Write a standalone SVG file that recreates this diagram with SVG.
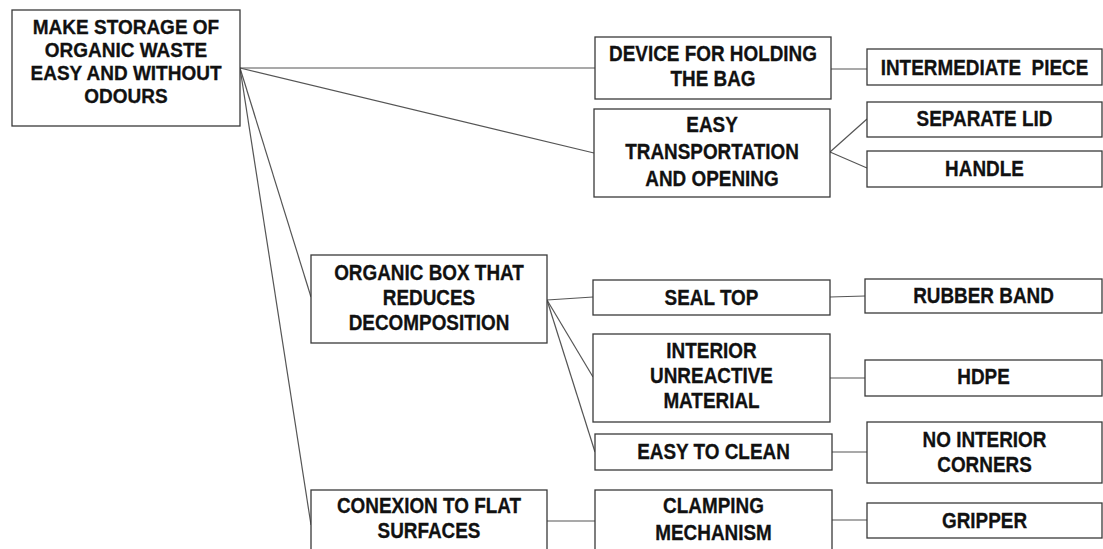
<svg xmlns="http://www.w3.org/2000/svg" width="1103" height="549" viewBox="0 0 1103 549">
<style>
.box{fill:#fff;stroke:#3a3a3a;stroke-width:1.3}
.t{font-family:"Liberation Sans",Arial,sans-serif;font-weight:bold;font-size:22px;fill:#111;stroke:#111;stroke-width:0.3;text-anchor:middle}
.r{font-size:20px}
.c{stroke:#555;stroke-width:1.2;fill:none}
</style>
<rect width="1103" height="549" fill="#fff"/>
<g id="connectors">
<line class="c" x1="240" y1="68" x2="595" y2="68"/>
<line class="c" x1="240" y1="68" x2="594" y2="153"/>
<line class="c" x1="240" y1="68" x2="311" y2="297"/>
<line class="c" x1="240" y1="68" x2="311" y2="525"/>
<line class="c" x1="831" y1="69" x2="867" y2="69"/>
<line class="c" x1="830" y1="152" x2="867" y2="119"/>
<line class="c" x1="830" y1="152" x2="867" y2="168"/>
<line class="c" x1="547" y1="300" x2="593" y2="297"/>
<line class="c" x1="547" y1="300" x2="593" y2="377"/>
<line class="c" x1="547" y1="300" x2="595" y2="452"/>
<line class="c" x1="830" y1="297" x2="865" y2="296"/>
<line class="c" x1="830" y1="378" x2="865" y2="378"/>
<line class="c" x1="832" y1="452" x2="867" y2="452"/>
<line class="c" x1="547" y1="521" x2="595" y2="521"/>
<line class="c" x1="832" y1="520" x2="867" y2="520"/>
</g>
<g id="root">
<rect class="box" x="12" y="10" width="228" height="116"/>
<text class="t r" transform="translate(126 34) scale(0.95 1)">MAKE STORAGE OF</text>
<text class="t r" transform="translate(126 57) scale(0.95 1)">ORGANIC WASTE</text>
<text class="t r" transform="translate(126 80) scale(0.95 1)">EASY AND WITHOUT</text>
<text class="t r" transform="translate(126 103) scale(0.95 1)">ODOURS</text>
</g>
<g id="device">
<rect class="box" x="595" y="37" width="236" height="62"/>
<text class="t" transform="translate(713 61) scale(0.86 1)">DEVICE FOR HOLDING</text>
<text class="t" transform="translate(713 86) scale(0.86 1)">THE BAG</text>
</g>
<g id="intermediate">
<rect class="box" x="867" y="49" width="235" height="36"/>
<text class="t" transform="translate(984.5 75) scale(0.86 1)" xml:space="preserve">INTERMEDIATE  PIECE</text>
</g>
<g id="transport">
<rect class="box" x="594" y="109" width="236" height="88"/>
<text class="t" transform="translate(712 132) scale(0.86 1)">EASY</text>
<text class="t" transform="translate(712 159) scale(0.86 1)">TRANSPORTATION</text>
<text class="t" transform="translate(712 186) scale(0.86 1)">AND OPENING</text>
</g>
<g id="lid">
<rect class="box" x="867" y="102" width="235" height="35"/>
<text class="t" transform="translate(984.5 126) scale(0.86 1)">SEPARATE LID</text>
</g>
<g id="handle">
<rect class="box" x="867" y="151" width="235" height="36"/>
<text class="t" transform="translate(984.5 176) scale(0.86 1)">HANDLE</text>
</g>
<g id="organic">
<rect class="box" x="311" y="255" width="236" height="88"/>
<text class="t" transform="translate(429 280) scale(0.86 1)">ORGANIC BOX THAT</text>
<text class="t" transform="translate(429 305) scale(0.86 1)">REDUCES</text>
<text class="t" transform="translate(429 330) scale(0.86 1)">DECOMPOSITION</text>
</g>
<g id="seal">
<rect class="box" x="593" y="280" width="237" height="35"/>
<text class="t" transform="translate(711.5 305) scale(0.86 1)">SEAL TOP</text>
</g>
<g id="rubber">
<rect class="box" x="865" y="279" width="237" height="34"/>
<text class="t" transform="translate(983.5 303) scale(0.86 1)">RUBBER BAND</text>
</g>
<g id="interior">
<rect class="box" x="593" y="334" width="237" height="88"/>
<text class="t" transform="translate(711.5 358) scale(0.86 1)">INTERIOR</text>
<text class="t" transform="translate(711.5 383) scale(0.86 1)">UNREACTIVE</text>
<text class="t" transform="translate(711.5 408) scale(0.86 1)">MATERIAL</text>
</g>
<g id="hdpe">
<rect class="box" x="865" y="360" width="237" height="36"/>
<text class="t" transform="translate(983.5 384) scale(0.86 1)">HDPE</text>
</g>
<g id="clean">
<rect class="box" x="595" y="434" width="237" height="36"/>
<text class="t" transform="translate(713.5 459) scale(0.86 1)">EASY TO CLEAN</text>
</g>
<g id="corners">
<rect class="box" x="867" y="422" width="235" height="61"/>
<text class="t" transform="translate(984.5 447) scale(0.86 1)">NO INTERIOR</text>
<text class="t" transform="translate(984.5 472) scale(0.86 1)">CORNERS</text>
</g>
<g id="conexion">
<rect class="box" x="311" y="490" width="236" height="70"/>
<text class="t" transform="translate(429 513) scale(0.86 1)">CONEXION TO FLAT</text>
<text class="t" transform="translate(429 538) scale(0.86 1)">SURFACES</text>
</g>
<g id="clamping">
<rect class="box" x="595" y="490" width="237" height="70"/>
<text class="t" transform="translate(713.5 513) scale(0.86 1)">CLAMPING</text>
<text class="t" transform="translate(713.5 540) scale(0.86 1)">MECHANISM</text>
</g>
<g id="gripper">
<rect class="box" x="867" y="503" width="235" height="35"/>
<text class="t" transform="translate(984.5 528) scale(0.86 1)">GRIPPER</text>
</g>
</svg>
